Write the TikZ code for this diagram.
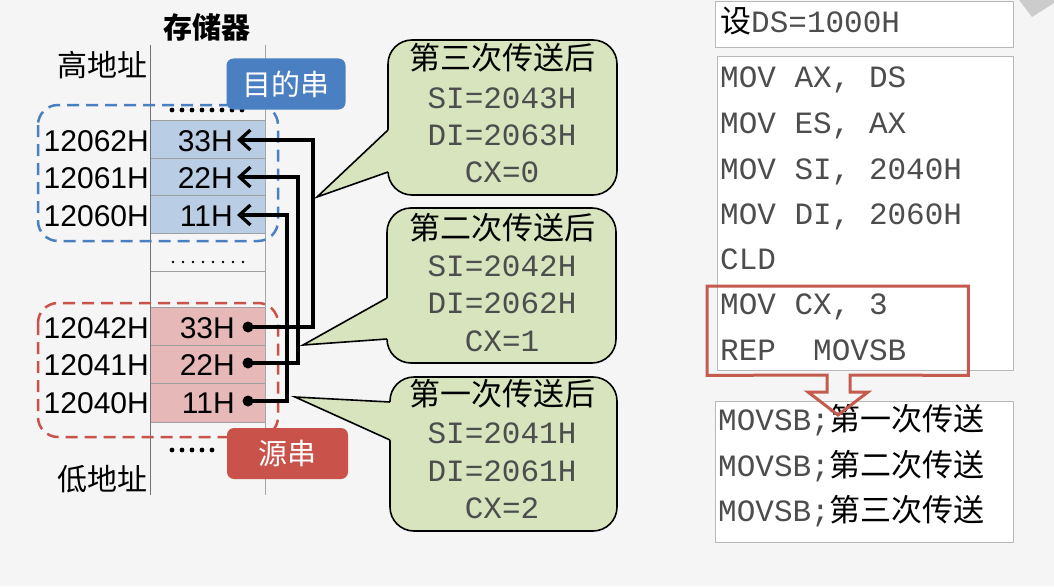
\documentclass[tikz,border=0pt]{standalone}
\usepackage{fontspec}
\setmainfont{Liberation Sans}
\newfontfamily\cjk{Noto Sans CJK SC}
\newfontfamily\monof{Liberation Mono}
\usetikzlibrary{arrows.meta}
\definecolor{bg}{HTML}{F5F5F5}
\definecolor{bluecell}{HTML}{B9CDE5}
\definecolor{redcell}{HTML}{E6B9B8}
\definecolor{dstblue}{HTML}{4A7FC1}
\definecolor{srcred}{HTML}{C9524A}
\definecolor{callg}{HTML}{D7E4BD}
\definecolor{hlred}{HTML}{C55A4F}
\definecolor{monogray}{HTML}{4D4D4D}
\tikzset{
  addr/.style={font=\fontsize{30}{36}\selectfont, anchor=base east, inner sep=0},
  cn/.style={font=\cjk\fontsize{30}{36}\selectfont, inner sep=0},
  cncall/.style={font=\cjk\fontsize{31}{36}\selectfont, inner sep=0, anchor=base},
  monocall/.style={font=\monof\fontsize{31}{36}\selectfont, text=monogray, inner sep=0, anchor=base},
  code/.style={font=\monof\fontsize{31}{36}\selectfont, text=monogray, inner sep=0, anchor=base west},
  bcellbox/.style={draw=gray!75, fill=bluecell, minimum width=115, minimum height=37.67, inner sep=0},
  rcellbox/.style={draw=gray!75, fill=redcell, minimum width=115, minimum height=38.33, inner sep=0},
  call/.style={draw=black, line width=1.6, fill=callg, rounded corners=24, inner sep=0},
  codebox/.style={draw=gray!55, fill=white, inner sep=0, anchor=north west},
  tag/.style={rounded corners=7, inner sep=0, text=white, font=\cjk\fontsize{29}{34}\selectfont},
  srcdot/.style={circle, fill=black, inner sep=0, minimum size=11},
  mover/.style={black, line width=3.3pt, -{Straight Barb[length=11pt,width=20pt]}}
}
\begin{document}
\begin{tikzpicture}[x=1pt,y=-1pt]
\useasboundingbox (0,0) rectangle (1054,586);
\fill[bg] (0,0) rectangle (1054,586);
\fill[gray!40] (1019,0) -- (1032,17) -- (1054,3) -- (1054,0) -- cycle;

% memory title and labels
\node[cn, font=\cjk\bfseries\fontsize{29}{34}\selectfont, anchor=base] (title) at (207,38) {存储器};
\node[cn, anchor=base east] (hi) at (148,76) {高地址};
\node[cn, anchor=base east] (lo) at (148,490) {低地址};

% cells
\node[bcellbox] (b3) at (207.5,139) {};
\node[bcellbox] (b2) at (207.5,176.67) {};
\node[bcellbox] (b1) at (207.5,214.33) {};
\node[rcellbox] (r3) at (207.5,326.17) {};
\node[rcellbox] (r2) at (207.5,364.5) {};
\node[rcellbox] (r1) at (207.5,402.83) {};
\draw[gray!75] (150,271) -- (265,271);

% column lines
\draw[gray!90!black, line width=1] (150,45) -- (150,495);
\draw[gray!70, line width=1] (265,45) -- (265,495);

% cell values
\node[addr] (b3t) at (233,151) {33H};
\node[addr] (b2t) at (233,188) {22H};
\node[addr] (b1t) at (233,226) {11H};
\node[addr] (r3t) at (235,338) {33H};
\node[addr] (r2t) at (235,375) {22H};
\node[addr] (r1t) at (235,413) {11H};

% addresses
\node[addr] (a62) at (149,151) {12062H};
\node[addr] (a61) at (149,188) {12061H};
\node[addr] (a60) at (149,226) {12060H};
\node[addr] (a42) at (149,338) {12042H};
\node[addr] (a41) at (149,375) {12041H};
\node[addr] (a40) at (149,413) {12040H};

% dots
\foreach \x in {172,182,...,242} \fill (\x,110) circle (2.4);
\foreach \x in {173,183,...,243} \fill (\x,262) circle (1.4);
\foreach \x in {172,182,...,212} \fill (\x,450) circle (2.4);

% dashed groups
\draw[dstblue, line width=2.5, dash pattern=on 12 off 7, rounded corners=20] (38,105) rectangle (278,241);
\draw[srcred, line width=2.5, dash pattern=on 12 off 7, rounded corners=20] (38,303) rectangle (278,437);

% tags
\node[tag, fill=dstblue, minimum width=119, minimum height=51] (dst) at (286,84) {目的串};
\node[tag, fill=srcred, minimum width=121, minimum height=51] (src) at (287.5,453.5) {源串};

% connectors
\node[srcdot] (s3) at (248,327) {};
\node[srcdot] (s2) at (248,363) {};
\node[srcdot] (s1) at (248,401) {};
\coordinate (d3) at (237,140);
\coordinate (d2) at (237,177);
\coordinate (d1) at (237,215);
\draw[mover] (s3.center) -- ++(65,0) |- (d3);
\draw[mover] (s2.center) -- ++(50,0) |- (d2);
\draw[mover] (s1.center) -- ++(39,0) |- (d1);

% callouts
\node[call, minimum width=229, minimum height=155] (c3) at (502.5,117.5) {};
\coordinate (t3) at (317,197);
\coordinate (p3a) at (388,130);
\coordinate (p3b) at (388,172);
\fill[callg] (392,129) -- (p3a) -- (t3) -- (p3b) -- (392,173) -- cycle;
\draw[line width=1.6] (p3a) -- (t3) -- (p3b);
\node[cncall] (c3h) at (502,70) {第三次传送后};
\node[monocall] (c3a) at (502,108) {SI=2043H};
\node[monocall] (c3b) at (502,145) {DI=2063H};
\node[monocall] (c3c) at (502,182) {CX=0};

\node[call, minimum width=229, minimum height=155] (c2) at (501.5,285.5) {};
\coordinate (t2) at (303,345);
\coordinate (p2a) at (387,298);
\coordinate (p2b) at (387,339);
\fill[callg] (391,297) -- (p2a) -- (t2) -- (p2b) -- (391,340) -- cycle;
\draw[line width=1.6] (p2a) -- (t2) -- (p2b);
\node[cncall] (c2h) at (502,239) {第二次传送后};
\node[monocall] (c2a) at (502,276) {SI=2042H};
\node[monocall] (c2b) at (502,313) {DI=2062H};
\node[monocall] (c2c) at (502,351) {CX=1};

\node[call, minimum width=227, minimum height=154] (c1) at (503.5,454) {};
\coordinate (t1) at (295,397);
\coordinate (p1a) at (390,402);
\coordinate (p1b) at (390,440);
\fill[callg] (394,401) -- (p1a) -- (t1) -- (p1b) -- (394,441) -- cycle;
\draw[line width=1.6] (p1a) -- (t1) -- (p1b);
\node[cncall] (c1h) at (502,405) {第一次传送后};
\node[monocall] (c1a) at (502,443) {SI=2041H};
\node[monocall] (c1b) at (502,481) {DI=2061H};
\node[monocall] (c1c) at (502,518) {CX=2};

% right side
\node[codebox, minimum width=298, minimum height=46] (dsbox) at (715,1) {};
\node[code, text=black] (dsl) at (720,33) {{\cjk 设}{\color{monogray}DS=1000H}};

\node[codebox, minimum width=296, minimum height=314] (prog) at (717,56) {};
\node[code] (l1) at (720,88) {MOV AX, DS};
\node[code] (l2) at (720,133) {MOV ES, AX};
\node[code] (l3) at (720,179) {MOV SI, 2040H};
\node[code] (l4) at (720,224) {MOV DI, 2060H};
\node[code] (l5) at (720,269) {CLD};
\node[code] (l6) at (720,314) {MOV CX, 3};
\node[code] (l7) at (720,360) {REP\ \ MOVSB};

\node[codebox, minimum width=298, minimum height=141] (exp) at (715,401) {};
\node[code] (e1) at (718,430) {MOVSB;{\cjk\color{black}第一次传送}};
\node[code] (e2) at (718,476) {MOVSB;{\cjk\color{black}第二次传送}};
\node[code] (e3) at (718,521) {MOVSB;{\cjk\color{black}第三次传送}};

\node[inner sep=0, minimum width=261, minimum height=89, anchor=north west] (hl) at (707,286) {};
\draw[hlred, line width=3] (hl.south west) -- (hl.north west) -- (hl.north east) -- (hl.south east)
  -- (850,375) -- (850,392) -- (868,392) -- (838,415) -- (808,392) -- (827,392) -- (827,375) -- cycle;
\end{tikzpicture}
\end{document}
